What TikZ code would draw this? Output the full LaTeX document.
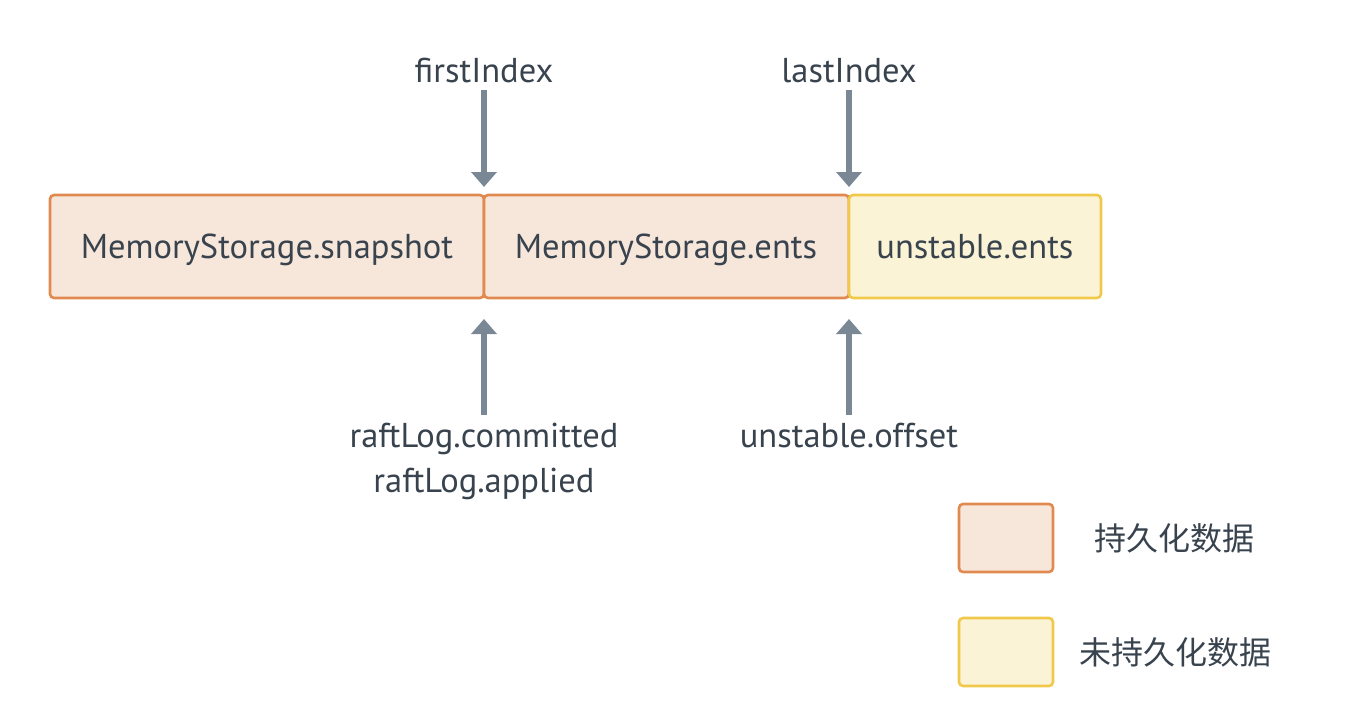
\documentclass[tikz,border=0pt]{standalone}
\usepackage{fontspec}
\setmainfont{PT Sans}
\newfontfamily\cjk{Noto Sans CJK SC}
\usetikzlibrary{arrows.meta}
\definecolor{txt}{HTML}{38434E}
\definecolor{arr}{HTML}{7A8896}
\definecolor{orb}{HTML}{E08A50}
\definecolor{orf}{HTML}{F7E6DA}
\definecolor{yeb}{HTML}{F0C94A}
\definecolor{yef}{HTML}{FBF3D6}
\begin{document}
\begin{tikzpicture}[x=1pt,y=-1pt,
  lbl/.style={text=txt,font=\fontsize{34.5}{40}\selectfont,inner sep=0pt,anchor=base},
  cjklbl/.style={text=txt,font=\cjk\fontsize{32}{38}\selectfont,inner sep=0pt},
  pbox/.style={draw=orb,fill=orf,line width=2.6pt,rounded corners=4pt},
  ubox/.style={draw=yeb,fill=yef,line width=2.6pt,rounded corners=4pt},
  ptr/.style={draw=arr,line width=6pt,-{Triangle[width=25pt,length=15pt]}}]
\useasboundingbox (0,0) rectangle (1366,720);
% boxes
\path[pbox] (50,195) rectangle (484,298);
\path[pbox] (484,195) rectangle (849,298);
\path[ubox] (849,195) rectangle (1101,298);
\node[lbl] (snap) at (267,258) {MemoryStorage.snapshot};
\node[lbl] (ents) at (666,258) {MemoryStorage.ents};
\node[lbl] (unst) at (975,258) {unstable.ents};
\coordinate (t1) at (484,187);
\coordinate (t2) at (849,187);
\coordinate (b1) at (484,319);
\coordinate (b2) at (849,319);
% labels
\node[lbl] (fi) at (484,82) {firstIndex};
\node[lbl] (li) at (849,82) {lastIndex};
\node[lbl] (rc) at (484,447) {raftLog.committed};
\node[lbl] (ra) at (484,492) {raftLog.applied};
\node[lbl] (uo) at (849,447) {unstable.offset};
\coordinate (fis) at (484,90);
\coordinate (lis) at (849,90);
\coordinate (rcs) at (484,415);
\coordinate (uos) at (849,415);
\draw[ptr] (fis) -- (t1);
\draw[ptr] (lis) -- (t2);
\draw[ptr] (rcs) -- (b1);
\draw[ptr] (uos) -- (b2);
% legend
\path[pbox] (959,504) rectangle (1053,572);
\path[ubox] (959,618) rectangle (1053,686);
\node[cjklbl] (l1) at (1174,538) {持久化数据};
\node[cjklbl] (l2) at (1175,652) {未持久化数据};
\end{tikzpicture}
\end{document}
